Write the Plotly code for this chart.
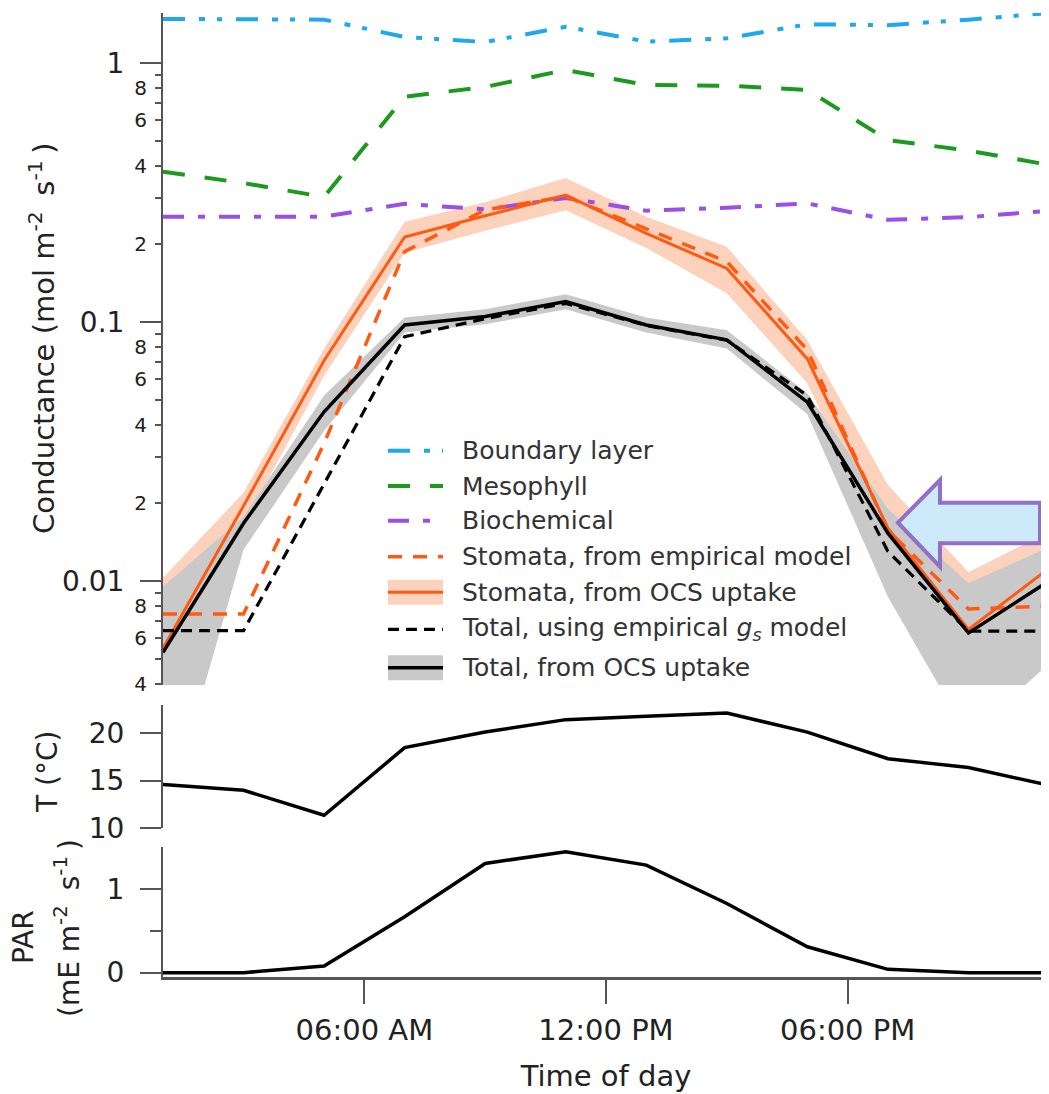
import plotly.graph_objects as go

# ---------------- data ----------------
hours = [1, 3, 5, 7, 9, 11, 13, 15, 17, 19, 21, 23]
x_tick_hours = [6, 12, 18]
x_tick_labels = ["06:00 AM", "12:00 PM", "06:00 PM"]

boundary_layer = [1.48, 1.48, 1.47, 1.26, 1.205, 1.38, 1.21, 1.245, 1.41, 1.40, 1.47, 1.56]
mesophyll = [0.38, 0.344, 0.304, 0.741, 0.808, 0.94, 0.822, 0.817, 0.787, 0.504, 0.459, 0.404]
biochemical = [0.255, 0.255, 0.255, 0.286, 0.272, 0.301, 0.269, 0.276, 0.287, 0.248, 0.254, 0.269]
stomata_empirical = [0.00746, 0.00746, 0.034, 0.187, 0.271, 0.305, 0.229, 0.171, 0.078, 0.0157, 0.0078, 0.0080]
stomata_ocs = [0.0055, 0.0195, 0.071, 0.213, 0.257, 0.309, 0.22, 0.161, 0.072, 0.0160, 0.0065, 0.0112]
stomata_ocs_hi = [0.0103, 0.0219, 0.079, 0.244, 0.29, 0.36, 0.255, 0.195, 0.085, 0.0235, 0.0108, 0.0155]
stomata_ocs_lo = [0.0040, 0.0165, 0.062, 0.185, 0.225, 0.27, 0.193, 0.129, 0.058, 0.0125, 0.0050, 0.0080]
total_empirical = [0.00643, 0.00643, 0.0237, 0.0877, 0.103, 0.118, 0.097, 0.085, 0.052, 0.0130, 0.0064, 0.0064]
total_ocs = [0.0053, 0.0167, 0.045, 0.0974, 0.105, 0.120, 0.0974, 0.0853, 0.049, 0.0153, 0.0063, 0.0100]
total_ocs_hi = [0.0095, 0.0177, 0.052, 0.104, 0.112, 0.128, 0.104, 0.093, 0.053, 0.019, 0.0098, 0.0135]
total_ocs_lo = [0.0011, 0.0132, 0.038, 0.091, 0.098, 0.112, 0.091, 0.079, 0.044, 0.0087, 0.0025, 0.0048]

temperature = [14.57, 13.97, 11.34, 18.46, 20.1, 21.41, 21.76, 22.1, 20.1, 17.3, 16.36, 14.5]
par = [0.0, 0.0, 0.08, 0.67, 1.31, 1.45, 1.29, 0.83, 0.31, 0.04, 0.0, 0.0]

legend_names = [
    "Boundary layer",
    "Mesophyll",
    "Biochemical",
    "Stomata, from empirical model",
    "Stomata, from OCS uptake",
    "Total, using empirical <i>g<sub>s</sub></i> model",
    "Total, from OCS uptake",
]

# ---------------- styles ----------------
FONT = "DejaVu Sans"
TXT = "#222222"
AX = "#555555"
BLUE = "#1ea8ee"
GREEN = "#1b9a1e"
PURPLE = "#9a50e6"
ORANGE = "#ff5a12"
PINK = "#fdd2bd"
GREY = "#c9c9c9"
BLACK = "#000000"

DASH_BL = "22px,14px,6px,12px,5px,14px"
DASH_ME = "22px,20px"
DASH_BI = "21px,14px,7px,14px"
DASH_SE = "14px,11px"
DASH_TE = "11px,7px"

# page is offset by the browser's default 8px body margin
OX, OY = 8, 8
W, H = 1041, 1086
ML, MR, MT, MB = 155, 0, 5, 117
PW, PH = W - ML - MR, H - MT - MB
X0, Y0 = OX + ML, OY + MT  # page pixel of plot-area top-left


def px(x):
    return (x - X0) / PW


def py(y):
    return (Y0 + PH - y) / PH


fig = go.Figure()

# bands (base log axis, drawn under the overlay where the lines live)
fig.add_trace(go.Scatter(x=hours, y=stomata_ocs_lo, mode="lines", line=dict(width=0, color=PINK),
                         showlegend=False, hoverinfo="skip", yaxis="y"))
fig.add_trace(go.Scatter(x=hours, y=stomata_ocs_hi, mode="lines", line=dict(width=0, color=PINK),
                         fill="tonexty", fillcolor=PINK, showlegend=False, hoverinfo="skip", yaxis="y"))
fig.add_trace(go.Scatter(x=hours, y=total_ocs_lo, mode="lines", line=dict(width=0, color=GREY),
                         showlegend=False, hoverinfo="skip", yaxis="y"))
fig.add_trace(go.Scatter(x=hours, y=total_ocs_hi, mode="lines", line=dict(width=0, color=GREY),
                         fill="tonexty", fillcolor=GREY, showlegend=False, hoverinfo="skip", yaxis="y"))

series = [
    (boundary_layer, BLUE, DASH_BL, 4),
    (mesophyll, GREEN, DASH_ME, 4),
    (biochemical, PURPLE, DASH_BI, 4),
    (stomata_empirical, ORANGE, DASH_SE, 3.5),
    (stomata_ocs, ORANGE, "solid", 3),
    (total_empirical, BLACK, DASH_TE, 3.2),
    (total_ocs, BLACK, "solid", 3.5),
]
for (vals, col, dash, w), name in zip(series, legend_names):
    fig.add_trace(go.Scatter(x=hours, y=vals, mode="lines", name=name,
                             line=dict(color=col, dash=dash, width=w),
                             showlegend=False, yaxis="y4"))

fig.add_trace(go.Scatter(x=hours, y=temperature, mode="lines", name="T",
                         line=dict(color=BLACK, width=3.5), showlegend=False, yaxis="y2"))
fig.add_trace(go.Scatter(x=hours, y=par, mode="lines", name="PAR",
                         line=dict(color=BLACK, width=3.5), showlegend=False, yaxis="y3"))

# ---------------- axes ----------------
log_range = [-2.4016, 0.193]
lab_vals, lab_text, unl_vals = [], [], []
for dec in (0.001, 0.01, 0.1):
    for m in range(2, 10):
        v = round(m * dec, 6)
        if v < 0.004:
            continue
        if m % 2 == 0:
            lab_vals.append(v)
            lab_text.append(str(m))
        else:
            unl_vals.append(v)

common_y = dict(showgrid=False, zeroline=False, showline=True, linewidth=2, linecolor=AX,
                ticks="outside", tickwidth=2, tickcolor=AX, anchor="x")

fig.update_layout(
    width=W, height=H,
    margin=dict(l=ML, r=MR, t=MT, b=MB, autoexpand=False),
    paper_bgcolor="white", plot_bgcolor="white",
    font=dict(family=FONT, color=TXT),
    showlegend=False,
    xaxis=dict(domain=[0, 1], range=[1, 23], anchor="y3", showgrid=False, zeroline=False,
               showline=True, linewidth=3, linecolor=AX,
               tickmode="array", tickvals=x_tick_hours, ticktext=x_tick_labels,
               ticks="outside", ticklen=24, tickwidth=2, tickcolor=AX,
               tickfont=dict(size=29, family=FONT, color=TXT), ticklabelstandoff=1,
               title=dict(text="Time of day", font=dict(size=29, family=FONT, color=TXT), standoff=20)),
    yaxis=dict(domain=[py(685), 1.0], type="log", range=log_range,
               tickmode="array", tickvals=[0.01, 0.1, 1], ticktext=["0.01", "0.1", "1"],
               ticklen=21, tickfont=dict(size=28, family=FONT, color=TXT), ticklabelstandoff=10,
               **common_y),
    yaxis4=dict(overlaying="y", side="left", anchor="x", type="log", range=log_range,
                showgrid=False, zeroline=False, showline=False,
                tickmode="array", tickvals=lab_vals, ticktext=lab_text,
                ticks="outside", ticklen=7, tickwidth=2, tickcolor=AX,
                minor=dict(tickvals=unl_vals, ticklen=7, tickwidth=2, tickcolor=AX, ticks="outside"),
                tickfont=dict(size=20, family=FONT, color=TXT), ticklabelstandoff=4),
    yaxis2=dict(domain=[py(828), py(705)], range=[10, 22.95],
                tickmode="array", tickvals=[10, 15, 20], ticklen=21,
                tickfont=dict(size=28, family=FONT, color=TXT), ticklabelstandoff=10,
                **common_y),
    yaxis3=dict(domain=[0, py(847)], range=[-0.052, 1.507],
                tickmode="array", tickvals=[0, 1], ticklen=21,
                minor=dict(tickvals=[0.5], ticklen=11, tickwidth=2, tickcolor=AX, ticks="outside"),
                tickfont=dict(size=28, family=FONT, color=TXT), ticklabelstandoff=10,
                **common_y),
)

# ---------------- y-axis titles ----------------
ann = []
ann.append(dict(text="Conductance (mol m<sup>-2 </sup> s<sup>-1 </sup>)", textangle=-90,
                x=px(42), y=py(339), xref="paper", yref="paper", xanchor="center", yanchor="middle",
                showarrow=False, font=dict(size=29, family=FONT, color=TXT)))
ann.append(dict(text="T (°C)", textangle=-90,
                x=px(47), y=py(772), xref="paper", yref="paper", xanchor="center", yanchor="middle",
                showarrow=False, font=dict(size=28, family=FONT, color=TXT)))
ann.append(dict(text="PAR", textangle=-90,
                x=px(23), y=py(937), xref="paper", yref="paper", xanchor="center", yanchor="middle",
                showarrow=False, font=dict(size=28, family=FONT, color=TXT)))
ann.append(dict(text="(mE m<sup>-2 </sup> s<sup>-1 </sup>)", textangle=-90,
                x=px(67), y=py(928), xref="paper", yref="paper", xanchor="center", yanchor="middle",
                showarrow=False, font=dict(size=28, family=FONT, color=TXT)))

# ---------------- custom legend ----------------
shapes = []
rows = [450.7, 486, 520.7, 556.7, 592.3, 629.3, 667.7]
sym_x0, sym_x1, text_x = 388, 443, 460
for i, ((vals, col, dash, w), name) in enumerate(zip(series, legend_names)):
    yr = rows[i]
    if i == 4:
        shapes.append(dict(type="rect", xref="paper", yref="paper", x0=px(sym_x0), x1=px(sym_x1),
                           y0=py(yr + 12.5), y1=py(yr - 12.5), fillcolor=PINK, line=dict(width=0)))
    if i == 6:
        shapes.append(dict(type="rect", xref="paper", yref="paper", x0=px(sym_x0), x1=px(sym_x1),
                           y0=py(yr + 12.5), y1=py(yr - 12.5), fillcolor=GREY, line=dict(width=0)))
    shapes.append(dict(type="line", xref="paper", yref="paper", x0=px(sym_x0), x1=px(sym_x1),
                       y0=py(yr), y1=py(yr), line=dict(color=col, width=w, dash=dash)))
    ann.append(dict(text=name, x=px(text_x), y=py(yr), xref="paper", yref="paper",
                    xanchor="left", yanchor="middle", showarrow=False,
                    font=dict(size=25, family=FONT, color="#333333")))

# ---------------- highlight arrow ----------------
arrow_pts = [(898, 522.7), (940, 480), (940, 502.7), (1040, 502.7), (1040, 543.3),
             (940, 543.3), (940, 566.7)]
path = "M " + " L ".join(f"{px(a):.5f},{py(b):.5f}" for a, b in arrow_pts) + " Z"
shapes.append(dict(type="path", xref="paper", yref="paper", path=path,
                   fillcolor="#cdeafb", line=dict(color="#9370c8", width=4)))

fig.update_layout(shapes=shapes, annotations=ann)

fig.write_html("out.html")
